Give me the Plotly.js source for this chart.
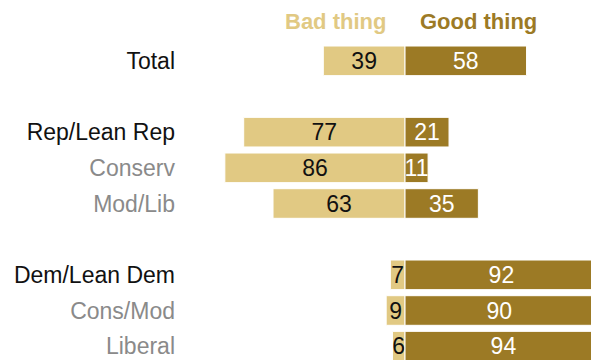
<!DOCTYPE html>
<html>
<head>
<meta charset="utf-8">
<script src="https://cdn.plot.ly/plotly-3.0.1.min.js"></script>
<style>
html,body{margin:0;padding:0;overflow:hidden;background:#fff;}
#chart{width:620px;height:370px;}
</style>
</head>
<body>
<div id="chart"></div>
<script>
// Data
const categories = ["Total", "", "Rep/Lean Rep", "Conserv", "Mod/Lib", "", "Dem/Lean Dem", "Cons/Mod", "Liberal"];
const isMain = [true, false, true, false, false, false, true, false, false];
const badThing = [39, null, 77, 86, 63, null, 7, 9, 6];
const goodThing = [58, null, 21, 11, 35, null, 92, 90, 94];
const seriesNames = ["Bad thing", "Good thing"];

const LIGHT = "#E1C983";
const DARK = "#9C7A25";
const rows = categories.map((c, i) => i);

const tickText = categories.map((c, i) =>
  isMain[i] ? '<span style="color:#111">' + c + '</span>' : '<span style="color:#8a8a8a">' + c + '</span>');

const traces = [
  {
    type: "bar", orientation: "h", name: seriesNames[0],
    y: rows, x: badThing.map(v => v === null ? null : -v),
    text: badThing.map(v => v === null ? "" : String(v)),
    textposition: "inside", insidetextanchor: "middle", constraintext: "none", textangle: 0,
    textfont: {family: "Liberation Sans, Arial, sans-serif", size: 23, color: "#111"},
    marker: {color: LIGHT, line: {color: "#ffffff", width: 1}},
    hoverinfo: "skip"
  },
  {
    type: "bar", orientation: "h", name: seriesNames[1],
    y: rows, x: goodThing,
    text: goodThing.map(v => v === null ? "" : String(v)),
    textposition: "inside", insidetextanchor: "middle", constraintext: "none", textangle: 0,
    textfont: {family: "Liberation Sans, Arial, sans-serif", size: 23, color: "#ffffff"},
    marker: {color: DARK, line: {color: "#ffffff", width: 1}},
    hoverinfo: "skip"
  }
];

const layout = {
  width: 620, height: 370,
  margin: {l: 180, r: 0, t: 43, b: 6},
  barmode: "relative",
  bargap: 0.17,
  showlegend: false,
  paper_bgcolor: "#fff", plot_bgcolor: "#fff",
  xaxis: {range: [-107.4, 102.6], visible: false, fixedrange: true},
  yaxis: {
    range: [8.5, -0.5], tickvals: rows, ticktext: tickText,
    showgrid: false, zeroline: false, showline: false, ticks: "",
    ticklabelstandoff: 4,
    tickfont: {family: "Liberation Sans, Arial, sans-serif", size: 23, color: "#111"}
  },
  annotations: [
    {xref: "x", yref: "paper", x: -8.0, y: 1.068, xanchor: "right", yanchor: "middle",
     text: "<b>" + seriesNames[0] + "</b>", showarrow: false,
     font: {family: "Liberation Sans, Arial, sans-serif", size: 22, color: LIGHT}},
    {xref: "x", yref: "paper", x: 6.0, y: 1.068, xanchor: "left", yanchor: "middle",
     text: "<b>" + seriesNames[1] + "</b>", showarrow: false,
     font: {family: "Liberation Sans, Arial, sans-serif", size: 22, color: DARK}}
  ]
};

Plotly.newPlot("chart", traces, layout, {staticPlot: true, displayModeBar: false});
</script>
</body>
</html>
